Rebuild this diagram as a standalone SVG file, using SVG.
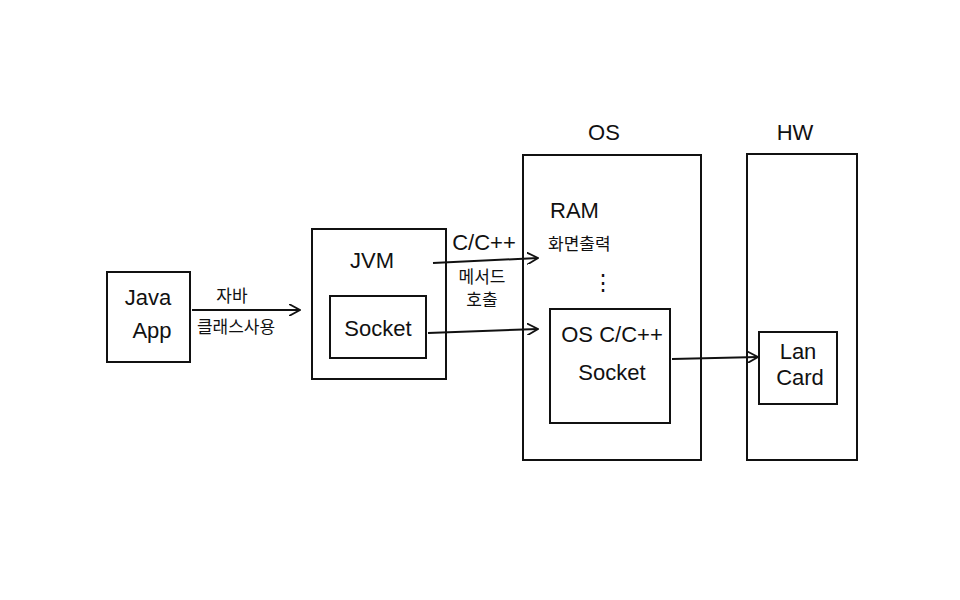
<svg xmlns="http://www.w3.org/2000/svg" width="960" height="600" viewBox="0 0 960 600">
<defs>
<style>
.b{fill:none;stroke:#111;stroke-width:2}
.t{font-family:"Liberation Sans","Noto Sans CJK KR",sans-serif;fill:#111;font-size:22px}
.s{font-family:"Noto Sans CJK KR","Liberation Sans",sans-serif;fill:#111;font-size:17px}
.c{stroke:#111;stroke-width:2;fill:none}
</style>
<marker id="a" viewBox="0 0 12 12" refX="11" refY="6" markerWidth="12" markerHeight="12" markerUnits="userSpaceOnUse" orient="auto"><path d="M0,0 L11,6 L0,12" fill="none" stroke="#111" stroke-width="1.8"/></marker>
</defs>
<rect width="960" height="600" fill="#fff"/>
<g id="java-app"><rect class="b" x="107" y="272" width="83" height="90"/><text class="t" x="148" y="305" text-anchor="middle">Java</text><text class="t" x="152" y="338" text-anchor="middle">App</text></g>
<g id="jvm"><rect class="b" x="312" y="229" width="134" height="150"/><text class="t" x="372" y="268" text-anchor="middle">JVM</text></g>
<g id="socket"><rect class="b" x="330" y="296" width="96" height="62"/><text class="t" x="378" y="336" text-anchor="middle">Socket</text></g>
<g id="os"><rect class="b" x="523" y="155" width="178" height="305"/><text class="t" x="604" y="140" text-anchor="middle" font-size="28">OS</text>
<text class="t" x="550" y="218" font-size="18">RAM</text><text class="s" x="548" y="250">화면출력</text><text class="t" x="592" y="290" font-size="20">⋮</text></g>
<g id="os-socket"><rect class="b" x="550" y="309" width="120" height="114"/><text class="t" x="612" y="342" text-anchor="middle">OS C/C++</text><text class="t" x="612" y="380" text-anchor="middle">Socket</text></g>
<g id="hw"><rect class="b" x="747" y="154" width="110" height="306"/><text class="t" x="795" y="140" text-anchor="middle" font-size="28">HW</text></g>
<g id="lan-card"><rect class="b" x="759" y="332" width="78" height="72"/><text class="t" x="798" y="359" text-anchor="middle" font-size="20">Lan</text><text class="t" x="800" y="385" text-anchor="middle" font-size="20">Card</text></g>
<g id="connectors">
<line class="c" x1="192" y1="310" x2="300" y2="310" marker-end="url(#a)"/>
<text class="s" x="232" y="302" text-anchor="middle">자바</text>
<text class="s" x="236" y="333" text-anchor="middle">클래스사용</text>
<line class="c" x1="433" y1="263" x2="538" y2="258" marker-end="url(#a)"/>
<text class="t" x="484" y="250" text-anchor="middle">C/C++</text>
<text class="s" x="482" y="283" text-anchor="middle">메서드</text>
<text class="s" x="482" y="306" text-anchor="middle">호출</text>
<line class="c" x1="428" y1="333" x2="538" y2="329" marker-end="url(#a)"/>
<line class="c" x1="672" y1="359" x2="758" y2="357" marker-end="url(#a)"/>
</g>
</svg>
